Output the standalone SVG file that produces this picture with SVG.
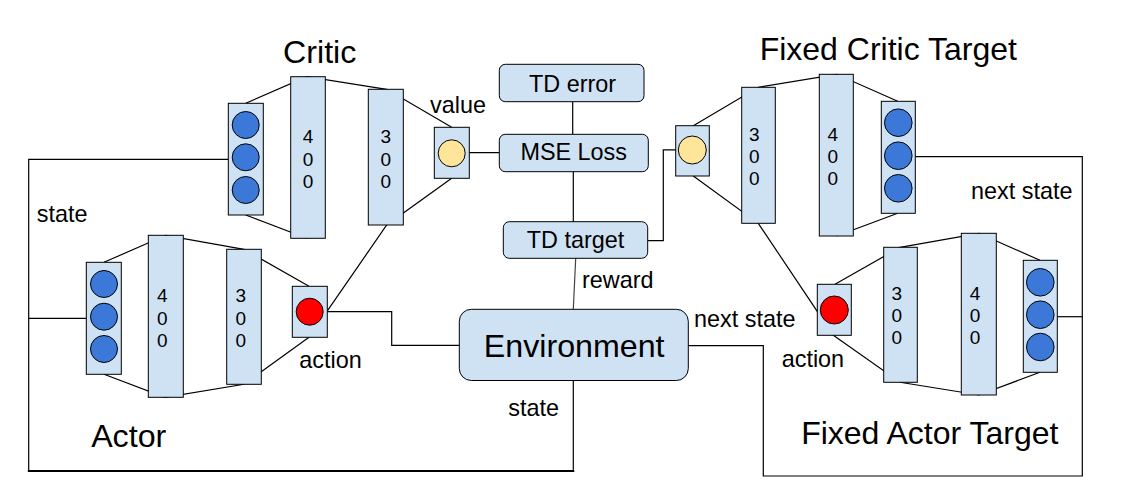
<svg xmlns="http://www.w3.org/2000/svg" width="1127" height="490" viewBox="0 0 1127 490">
<style>
.bx{fill:#cfe2f3;stroke:#000;stroke-width:1}
.blue{fill:#3c78d8;stroke:#000;stroke-width:1}
.yel{fill:#ffe599;stroke:#000;stroke-width:1}
.red{fill:#ff0000;stroke:#000;stroke-width:1}
.ln{fill:none;stroke:#000;stroke-width:1.2}
text{font-family:"Liberation Sans",Arial,sans-serif;fill:#000}
.lb{font-size:23.4px}
.tt{font-size:32.2px;text-anchor:middle}
.ft{font-size:32px;text-anchor:middle}
.dg{font-size:19px;text-anchor:middle}
.bt{font-size:23.4px;text-anchor:middle}
</style>
<rect width="1127" height="490" fill="#fff"/>
<g id="connectors">
<polyline class="ln" points="245.7,103.3 306.7,76.7 386.7,89.3 451.7,127.3"/>
<polyline class="ln" points="245.7,215 306.7,238.3"/>
<polyline class="ln" points="451.7,178.3 386.7,225 309,337.3"/>
<polyline class="ln" points="104,262.3 165.7,235.3 244,249.3 309,286.3"/>
<polyline class="ln" points="104,374.3 165,397.3 244,384.3 309,337.3"/>
<polyline class="ln" points="325,311.7 391.7,311.7 391.7,345.3 459.3,345.3"/>
<polyline class="ln" points="228.3,159.3 28.7,159.3 28.7,471"/>
<polyline class="ln" points="28.7,318.3 86.3,318.3"/>
<line x1="27.8" y1="471" x2="574.3" y2="471" stroke="#000" stroke-width="2.2"/>
<polyline class="ln" points="573.3,471 573.3,380.5"/>
<line class="ln" x1="465.2" y1="152.7" x2="499.3" y2="152.7"/>
<line class="ln" x1="572.7" y1="101.7" x2="572.7" y2="134.3"/>
<line class="ln" x1="573.3" y1="171.7" x2="573.3" y2="221.7"/>
<line x1="575.7" y1="258.3" x2="573.3" y2="309.3" stroke="#444" stroke-width="1.2"/>
<polyline class="ln" points="647.7,240.7 663.3,240.7 663.3,149.8 678.3,149.8"/>
<polyline class="ln" points="693.3,125.7 758.3,87.3 836.7,74.3 897.7,101.3"/>
<polyline class="ln" points="897.7,213.3 836.7,236"/>
<polyline class="ln" points="693.3,176 758.3,223.3 833.3,335.3"/>
<polyline class="ln" points="835,284.3 900,247.3 979,233.3 1040,260.3"/>
<polyline class="ln" points="833.3,335.3 900,382.3 979,395 1040,372.3"/>
<polyline class="ln" points="915.3,156.7 1082.3,156.7 1082.3,476 763.3,476 763.3,345.7 688.3,345.7"/>
<line class="ln" x1="1057.3" y1="316.7" x2="1082.3" y2="316.7"/>
</g>
<g id="critic-input">
<rect class="bx" x="228.3" y="103.3" width="35" height="111.7"/>
<circle class="blue" cx="245.7" cy="125" r="13.5"/>
<circle class="blue" cx="245.7" cy="157.3" r="13.5"/>
<circle class="blue" cx="245.7" cy="190" r="13.5"/>
</g>
<g id="critic-400">
<rect class="bx" x="290.7" y="76.7" width="34.6" height="161.6"/>
<text class="dg" x="308" y="143.3">4</text><text class="dg" x="308" y="165.5">0</text><text class="dg" x="308" y="187.5">0</text>
</g>
<g id="critic-300">
<rect class="bx" x="368.3" y="89.3" width="35" height="135.7"/>
<text class="dg" x="385.8" y="143.3">3</text><text class="dg" x="385.8" y="165.5">0</text><text class="dg" x="385.8" y="187.5">0</text>
</g>
<g id="critic-value">
<rect class="bx" x="434.3" y="127.3" width="35" height="51"/>
<circle class="yel" cx="451.7" cy="153.3" r="13.5"/>
</g>
<g id="actor-input">
<rect class="bx" x="86.3" y="262.3" width="35" height="112"/>
<circle class="blue" cx="104" cy="284" r="13.5"/>
<circle class="blue" cx="104" cy="316.7" r="13.5"/>
<circle class="blue" cx="104" cy="349" r="13.5"/>
</g>
<g id="actor-400">
<rect class="bx" x="148.3" y="235.3" width="35" height="162"/>
<text class="dg" x="162.3" y="302.3">4</text><text class="dg" x="162.3" y="324.5">0</text><text class="dg" x="162.3" y="346.5">0</text>
</g>
<g id="actor-300">
<rect class="bx" x="226.7" y="249.3" width="34.6" height="135"/>
<text class="dg" x="240.8" y="302.3">3</text><text class="dg" x="240.8" y="324.5">0</text><text class="dg" x="240.8" y="346.5">0</text>
</g>
<g id="actor-action">
<rect class="bx" x="292.3" y="286.3" width="35" height="51"/>
<circle class="red" cx="309.7" cy="311.7" r="13.5"/>
</g>
<g id="td-error">
<rect class="bx" x="499.3" y="64.3" width="144.7" height="37.4" rx="6"/>
<text class="bt" x="572.5" y="91.7">TD error</text>
</g>
<g id="mse-loss">
<rect class="bx" x="499.3" y="134.3" width="149" height="37.4" rx="6"/>
<text class="bt" x="573.7" y="160">MSE Loss</text>
</g>
<g id="td-target">
<rect class="bx" x="503.3" y="221.7" width="144.4" height="36.6" rx="6"/>
<text class="bt" x="575.5" y="247.7">TD target</text>
</g>
<g id="environment">
<rect class="bx" x="459.3" y="309.3" width="229" height="71.2" rx="12"/>
<text class="tt" x="574.2" y="356.7">Environment</text>
</g>
<g id="target-critic-value">
<rect class="bx" x="675.7" y="125.7" width="33.6" height="50.3"/>
<circle class="yel" cx="692.3" cy="150" r="14"/>
</g>
<g id="target-critic-300">
<rect class="bx" x="741.7" y="87.3" width="33.6" height="136"/>
<text class="dg" x="754.3" y="140.7">3</text><text class="dg" x="754.3" y="162.7">0</text><text class="dg" x="754.3" y="184.9">0</text>
</g>
<g id="target-critic-400">
<rect class="bx" x="819.3" y="74.3" width="34" height="161.7"/>
<text class="dg" x="832.7" y="140.7">4</text><text class="dg" x="832.7" y="162.7">0</text><text class="dg" x="832.7" y="184.9">0</text>
</g>
<g id="target-critic-input">
<rect class="bx" x="881.3" y="101.3" width="34" height="112"/>
<circle class="blue" cx="898.3" cy="122.7" r="13.8"/>
<circle class="blue" cx="898.3" cy="155.7" r="13.8"/>
<circle class="blue" cx="898.3" cy="188.3" r="13.8"/>
</g>
<g id="target-actor-action">
<rect class="bx" x="817.3" y="284.3" width="34" height="51"/>
<circle class="red" cx="834.3" cy="310" r="14"/>
</g>
<g id="target-actor-300">
<rect class="bx" x="883.7" y="247.3" width="33.6" height="135"/>
<text class="dg" x="896.7" y="300">3</text><text class="dg" x="896.7" y="322">0</text><text class="dg" x="896.7" y="344">0</text>
</g>
<g id="target-actor-400">
<rect class="bx" x="961.3" y="233.3" width="35" height="161.7"/>
<text class="dg" x="975" y="300">4</text><text class="dg" x="975" y="322">0</text><text class="dg" x="975" y="344">0</text>
</g>
<g id="target-actor-input">
<rect class="bx" x="1023.3" y="260.3" width="34" height="112"/>
<circle class="blue" cx="1040.3" cy="282.3" r="13.8"/>
<circle class="blue" cx="1040.3" cy="314.7" r="13.8"/>
<circle class="blue" cx="1040.3" cy="347" r="13.8"/>
</g>
<g id="labels">
<text class="tt" x="319.7" y="62.7">Critic</text>
<text class="tt" x="128.7" y="446.7">Actor</text>
<text class="ft" x="888.3" y="60">Fixed Critic Target</text>
<text class="ft" x="929.8" y="444">Fixed Actor Target</text>
<text class="lb" x="430" y="113.3">value</text>
<text class="lb" x="36.7" y="221.7">state</text>
<text class="lb" x="299.3" y="368.3">action</text>
<text class="lb" x="582" y="288.3">reward</text>
<text class="lb" x="508.3" y="416">state</text>
<text class="lb" x="971" y="199.3">next state</text>
<text class="lb" x="694" y="327.3">next state</text>
<text class="lb" x="781.7" y="366.7">action</text>
</g>
</svg>
